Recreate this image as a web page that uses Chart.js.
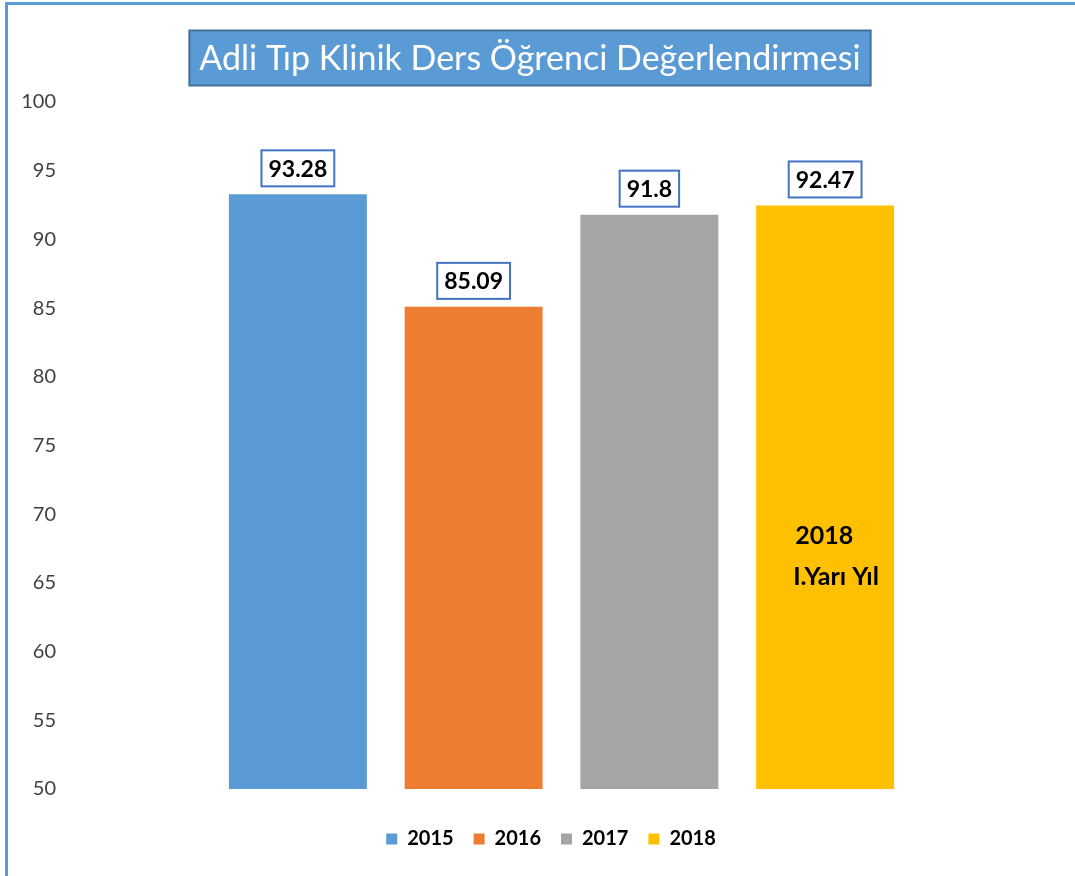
<!DOCTYPE html>
<html>
<head>
<meta charset="utf-8">
<script src="https://cdn.jsdelivr.net/npm/chart.js@4/dist/chart.umd.min.js"></script>
<style>
  html, body { margin: 0; padding: 0; background: #fff; }
  #wrap { position: relative; width: 1075px; height: 876px; }
  #frame { position: absolute; left: 5px; top: 2px; right: 0; bottom: 0;
           border-left: 3px solid #5B9BD5; border-top: 3px solid #5B9BD5; }
  canvas { position: absolute; left: 0; top: 0; }
</style>
</head>
<body>
<div id="wrap">
  <div id="frame"></div>
  <canvas id="c" width="1075" height="876"></canvas>
</div>
<script>
// Adli Tıp klinik ders değerlendirmesi, yıllara göre ortalama puan.
var TITLE = "Adli Tıp Klinik Ders Öğrenci Değerlendirmesi";
var YEARS = ["2015", "2016", "2017", "2018"];
var SCORES = [93.28, 85.09, 91.8, 92.47];
var Y_MIN = 50, Y_MAX = 100, Y_STEP = 5;
var NOTE = ["2018", "I.Yarı Yıl"]; // written inside the 2018 bar
var NOTE_AT = [68.4, 65.4];        // y values of the note lines

var COLORS = ["#5B9BD5", "#ED7D31", "#A5A5A5", "#FFC000"];
var FONT = "Lato, 'Open Sans', sans-serif";
var LEGEND_CX = 551; // legend sits a bit left of the plot centre

// one dataset per year so the legend shows four entries
var datasets = YEARS.map(function (y, i) {
  return {
    label: y,
    data: SCORES.map(function (v, j) { return j === i ? v : null; }),
    backgroundColor: COLORS[i],
    borderWidth: 0
  };
});

// blue box with the white title
var titleBox = {
  id: "titleBox",
  afterDraw: function (chart) {
    var ctx = chart.ctx;
    ctx.save();
    ctx.font = "34px " + FONT;
    var w = ctx.measureText(TITLE).width;
    var cx = 530, cy = 58, bw = w + 20, bh = 55;
    ctx.fillStyle = "#5B9BD5";
    ctx.fillRect(cx - bw / 2, cy - bh / 2, bw, bh);
    ctx.strokeStyle = "#41719C";
    ctx.lineWidth = 2;
    ctx.strokeRect(cx - bw / 2, cy - bh / 2, bw, bh);
    ctx.fillStyle = "#fff";
    ctx.textAlign = "center";
    ctx.textBaseline = "middle";
    ctx.fillText(TITLE, cx, cy + 1);
    ctx.restore();
  }
};

// boxed value labels above the bars + note inside last bar
var valueLabels = {
  id: "valueLabels",
  afterDatasetsDraw: function (chart) {
    var ctx = chart.ctx;
    ctx.save();
    ctx.font = "bold 23px " + FONT;
    ctx.textAlign = "center";
    ctx.textBaseline = "middle";
    YEARS.forEach(function (y, i) {
      var bar = chart.getDatasetMeta(i).data[i];
      if (!bar) return;
      var txt = String(SCORES[i]);
      var w = ctx.measureText(txt).width + 14, h = 36;
      var top = bar.y - 8 - h;
      ctx.fillStyle = "#fff";
      ctx.fillRect(bar.x - w / 2, top, w, h);
      ctx.strokeStyle = "#4472C4";
      ctx.lineWidth = 2;
      ctx.strokeRect(bar.x - w / 2, top, w, h);
      ctx.fillStyle = "#000";
      ctx.fillText(txt, bar.x, top + h / 2 + 1);
    });
    var last = chart.getDatasetMeta(3).data[3];
    var ys = chart.scales.y;
    ctx.font = "bold 25px " + FONT;
    ctx.textAlign = "left";
    ctx.fillStyle = "#000";
    NOTE.forEach(function (line, k) {
      ctx.fillText(line, last.x - last.width / 2 + 39 - (k ? 2 : 0), ys.getPixelForValue(NOTE_AT[k]));
    });
    ctx.restore();
  }
};

// nudge the legend so its centre matches the original
var legendShift = {
  id: "legendShift",
  afterLayout: function (chart) {
    var lg = chart.legend;
    var dx = LEGEND_CX - (lg.left + lg.right) / 2;
    lg.left += dx; lg.right += dx;
  }
};

new Chart(document.getElementById("c"), {
  type: "bar",
  data: { labels: YEARS, datasets: datasets },
  plugins: [titleBox, valueLabels, legendShift],
  options: {
    responsive: false,
    animation: false,
    layout: { padding: { left: 0, right: 162, top: 102, bottom: 17 } },
    datasets: { bar: { grouped: false, categoryPercentage: 1, barPercentage: 0.785 } },
    scales: {
      x: {
        ticks: { display: false },
        grid: { display: false, drawTicks: false },
        border: { display: false },
        afterFit: function (s) { s.height = 20; }
      },
      y: {
        min: Y_MIN, max: Y_MAX,
        ticks: { stepSize: Y_STEP, padding: 154, color: "#404040",
                 font: { family: FONT, size: 20 } },
        grid: { display: false, drawTicks: false },
        border: { display: false },
        afterFit: function (s) { s.width = 210; s.paddingTop = 0; s.paddingBottom = 0; }
      }
    },
    plugins: {
      legend: {
        position: "bottom",
        labels: { boxWidth: 11, boxHeight: 11, padding: 20, color: "#000",
                  font: { family: FONT, size: 20, weight: "bold" } }
      },
      tooltip: { enabled: false }
    }
  }
});
</script>
</body>
</html>
